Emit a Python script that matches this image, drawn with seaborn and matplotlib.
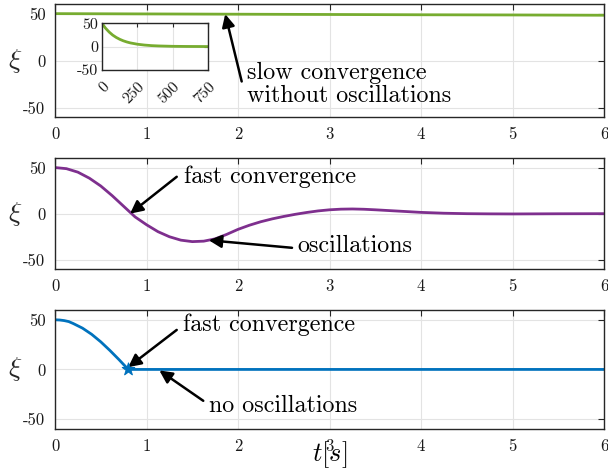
import numpy as np
import pandas as pd
import matplotlib
matplotlib.use("Agg")
import matplotlib.pyplot as plt
import seaborn as sns

# -----------------------------
# DATA
# -----------------------------
# top panel: slow convergence, no oscillations
t_slow = [0, 1, 2, 3, 4, 5, 6]
xi_slow = [50, 49.7, 49.4, 49.1, 48.8, 48.6, 48.3]

# inset: same signal over a long horizon
t_long = [0, 12.5, 25, 50, 75, 100, 125, 150, 175, 200, 250, 300, 350,
          400, 500, 600, 750]
xi_long = [50, 44, 39, 31, 24.5, 19.5, 15.5, 12.3, 9.8, 7.8, 5, 3.2, 2,
           1.3, 0.5, 0.2, 0]

# middle panel: fast convergence with oscillations
t_osc = [0, 0.125, 0.25, 0.375, 0.5, 0.625, 0.75, 0.875, 1.0, 1.125, 1.25,
         1.375, 1.5, 1.625, 1.75, 1.875, 2.0, 2.125, 2.25, 2.375, 2.5,
         2.625, 2.75, 2.875, 3.0, 3.125, 3.25, 3.375, 3.5, 3.75, 4.0,
         4.25, 4.5, 4.75, 5.0, 5.5, 6.0]
xi_osc = [50, 48.8, 45, 38.5, 30, 19.5, 8, -3.5, -12, -19.5, -25,
          -28.7, -30.3, -29.8, -27.3, -22.5, -17, -12.5, -8.7, -5.6, -3,
          -0.7, 1.3, 3, 4.2, 4.9, 5.1, 4.8, 4.2, 2.8, 1.4,
          0.5, 0, -0.2, -0.3, -0.1, 0]

# bottom panel: fast convergence, no oscillations
t_fast = [0, 0.05, 0.1, 0.15, 0.2, 0.3, 0.4, 0.5, 0.6, 0.7, 0.8,
          1.0, 2.0, 3.0, 4.0, 5.0, 6.0]
xi_fast = [50, 49.8, 49.2, 48.2, 46.2, 41.6, 35.4, 27.8, 19.1, 9.8, 0,
           0, 0, 0, 0, 0, 0]
t_hit = [0.8]
xi_hit = [0]

green = "#77AC30"
purple = "#7E2F8E"
blue = "#0072BD"

# -----------------------------
# STYLE
# -----------------------------
sns.set_theme(style="whitegrid")
plt.rcParams["font.family"] = ["cmr10", "DejaVu Serif"]
plt.rcParams["mathtext.fontset"] = "cm"
plt.rcParams["axes.unicode_minus"] = False
plt.rcParams["axes.formatter.use_mathtext"] = False
plt.rcParams["text.color"] = "black"

fig = plt.figure(figsize=(6.08, 4.69), dpi=100)
ax1 = fig.add_axes([0.0905, 0.750, 0.903, 0.241])
ax2 = fig.add_axes([0.0905, 0.4264, 0.903, 0.236])
ax3 = fig.add_axes([0.0905, 0.0853, 0.903, 0.254])
axins = fig.add_axes([0.168, 0.851, 0.174, 0.0995])

TXT = 17.3


def style_axis(ax, fs=12):
    ax.set_xlim(0, 6)
    ax.set_ylim(-60, 60)
    ax.set_xticks([0, 1, 2, 3, 4, 5, 6])
    ax.set_yticks([-50, 0, 50])
    ax.set_facecolor("white")
    ax.grid(True, color="#e3e3e3", lw=0.8)
    for s in ax.spines.values():
        s.set_color("#262626")
        s.set_linewidth(1.0)
    ax.tick_params(direction="in", length=4, width=0.8, color="#262626",
                   top=True, right=True, labelsize=fs, pad=7,
                   labelcolor="#1a1a1a")
    ax.set_xlabel("")
    ax.set_ylabel(r"$\xi$", fontsize=20, rotation=0, va="center", ha="center")
    ax.yaxis.set_label_coords(-0.073, 0.5)


arrow_kw = dict(arrowstyle="-|>", color="black", lw=1.8, mutation_scale=19,
                shrinkA=0, shrinkB=0)

# -----------------------------
# PLOT 1: slow convergence
# -----------------------------
sns.lineplot(x=t_slow, y=xi_slow, ax=ax1, color=green, lw=2)
style_axis(ax1)
ax1.annotate("", xy=(1.86, 49.5), xytext=(2.04, -22), arrowprops=arrow_kw)
ax1.text(2.10, -25, "slow convergence\nwithout oscillations", fontsize=TXT,
         ha="left", va="center", linespacing=1.02)

sns.lineplot(x=t_long, y=xi_long, ax=axins, color=green, lw=2)
axins.set_xlim(0, 750)
axins.set_ylim(-50, 50)
axins.set_xticks([0, 250, 500, 750])
axins.set_yticks([-50, 0, 50])
axins.set_facecolor("white")
axins.grid(True, color="#e3e3e3", lw=0.8)
for s in axins.spines.values():
    s.set_color("#262626")
    s.set_linewidth(1.0)
axins.tick_params(direction="in", length=3, width=0.8, color="#262626",
                  top=True, right=True, labelsize=11.5, pad=3,
                  labelcolor="#1a1a1a")
axins.tick_params(axis="x", pad=7)
plt.setp(axins.get_xticklabels(), rotation=45, ha="right", rotation_mode="anchor")

# -----------------------------
# PLOT 2: oscillating convergence
# -----------------------------
sns.lineplot(x=t_osc, y=xi_osc, ax=ax2, color=purple, lw=2)
style_axis(ax2)
ax2.annotate("", xy=(0.82, 0), xytext=(1.33, 40), arrowprops=arrow_kw)
ax2.text(1.41, 40, "fast convergence", fontsize=TXT, ha="left", va="center")
ax2.annotate("", xy=(1.68, -28.8), xytext=(2.59, -37), arrowprops=arrow_kw)
ax2.text(2.65, -35, "oscillations", fontsize=TXT, ha="left", va="center")

# -----------------------------
# PLOT 3: fast convergence, no oscillations
# -----------------------------
sns.lineplot(x=t_fast, y=xi_fast, ax=ax3, color=blue, lw=2)
sns.scatterplot(x=t_hit, y=xi_hit, ax=ax3, color=blue, marker="*", s=90,
                edgecolor=blue, zorder=5)
style_axis(ax3)
ax3.annotate("", xy=(0.80, 2.3), xytext=(1.33, 39.8), arrowprops=arrow_kw)
ax3.text(1.40, 45, "fast convergence", fontsize=TXT, ha="left", va="center")
ax3.annotate("", xy=(1.14, -1), xytext=(1.62, -31.6), arrowprops=arrow_kw)
ax3.text(1.68, -36.7, "no oscillations", fontsize=TXT, ha="left", va="center")

fig.text(0.543, 0.03, r"$t[s]$", fontsize=19, ha="center", va="center")

fig.savefig("out.png", dpi=100)
